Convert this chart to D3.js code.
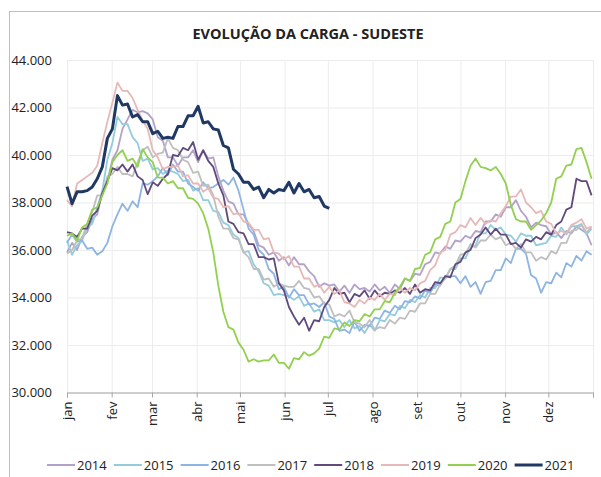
<!DOCTYPE html>
<html>
<head>
<meta charset="utf-8">
<script src="https://cdn.jsdelivr.net/npm/d3@7"></script>
<style>
  body { margin: 0; background: #fff; }
  text { font-family: "Open Sans", "Noto Sans", sans-serif; fill: #222; }
  .grid line { stroke: #ececec; stroke-width: 1; }
  .grid path { display: none; }
  .x-axis path, .x-axis line { stroke: #a6a6a6; }
</style>
</head>
<body>
<div id="chart"></div>
<script>
// series names and colours
var years = ["2014", "2015", "2016", "2017", "2018", "2019", "2020", "2021"];
var colors = ["#b3a2c7", "#93cddd", "#8eb4e3", "#bfbfbf", "#604a7b", "#e6b9b8", "#92d050", "#1f3864"];

// month axis
var monthLabels = ["jan", "fev", "mar", "abr", "mai", "jun", "jul", "ago", "set", "out", "nov", "dez"];
var monthStart = [0, 31, 59, 90, 120, 151, 181, 212, 243, 273, 304, 334];
var yTicks = [30000, 32000, 34000, 36000, 38000, 40000, 42000, 44000];

// load (thousand MWmed), one value every 3.5 days from jan 1
var step = 3.5;
var load2014 = [35.9,36.3,36.0,36.55,36.75,37.3,37.5,38.4,38.9,39.8,40.2,41.1,41.5,41.9,41.8,41.85,41.75,41.5,40.75,40.6,39.9,39.9,39.55,39.9,39.9,40.2,39.7,40.2,39.85,39.9,39.1,38.5,38.05,37.95,37.5,37.5,37.1,36.8,36.2,36.1,35.8,35.9,35.55,35.7,35.35,35.7,35.4,35.4,35.1,34.9,34.45,34.6,34.5,34.55,34.25,34.5,34.2,34.55,34.35,34.4,34.25,34.55,34.3,34.45,34.2,34.55,34.35,34.8,34.7,35.0,34.95,35.4,35.5,35.9,35.85,36.15,36.05,36.4,36.35,36.6,36.5,36.8,36.75,37.2,37.2,37.5,37.4,37.8,37.8,38.1,37.65,37.4,36.95,37.15,37.05,37.0,36.65,36.75,36.5,36.8,36.7,37.0,36.85,36.7,36.2];
var load2015 = [36.4,35.8,36.2,36.4,36.95,37.1,37.8,38.5,39.8,40.5,41.6,41.3,41.3,40.75,40.5,39.75,39.85,39.4,39.45,39.2,39.35,39.3,39.2,38.9,38.95,38.5,38.6,38.1,38.1,37.65,37.6,37.15,37.05,36.65,36.5,35.9,35.95,35.4,35.1,34.6,34.5,34.1,34.15,34.1,34.05,33.9,34.05,33.65,33.75,33.4,33.5,33.05,33.05,32.95,33.05,32.75,33.05,32.7,32.8,32.5,32.85,32.6,33.05,33.0,33.3,33.25,33.65,33.55,33.9,33.8,34.1,34.0,34.4,34.4,34.85,34.8,35.2,35.2,35.65,35.65,36.1,36.2,36.7,36.7,37.05,36.85,36.95,36.65,36.6,36.35,36.7,36.6,36.6,36.2,36.25,36.3,36.6,36.55,36.95,36.65,37.0,37.0,37.1,36.65,36.9];
var load2016 = [36.3,36.65,36.35,36.4,36.05,36.1,35.8,35.95,36.3,37.0,37.5,37.95,37.65,38.05,37.8,38.8,38.75,38.9,39.1,39.45,39.15,39.6,39.3,39.3,38.8,38.65,38.5,38.85,38.6,38.65,38.8,38.95,38.75,39.05,38.5,37.7,36.9,36.65,36.0,35.8,35.2,35.0,34.35,34.45,34.0,34.35,34.1,34.1,33.7,33.75,33.6,33.8,33.2,33.1,32.6,32.65,32.5,33.0,32.6,32.85,32.8,33.15,33.1,33.45,33.35,33.65,33.5,33.85,33.8,34.05,33.95,34.3,34.2,34.55,34.5,34.9,34.9,34.9,34.6,34.9,34.45,34.65,34.15,34.65,34.7,35.15,35.15,35.65,35.45,36.05,36.05,35.85,34.95,34.8,34.2,34.65,34.6,35.05,34.85,35.45,35.3,35.75,35.55,35.95,35.8];
var load2017 = [35.85,36.0,36.4,36.5,37.1,37.6,38.3,38.3,39.1,39.2,39.5,39.2,39.2,39.1,39.7,40.2,40.35,39.9,40.05,40.1,40.7,40.3,40.2,39.8,39.7,39.25,39.3,38.7,38.75,38.3,37.4,36.9,36.9,36.5,36.45,35.9,35.7,35.2,35.2,34.75,34.8,34.45,34.6,34.5,34.45,34.45,34.7,34.4,34.35,34.0,34.05,33.75,33.7,33.2,33.3,33.2,33.45,32.95,32.9,32.75,33.05,32.65,32.75,32.7,33.05,32.9,33.15,33.1,33.45,33.4,33.75,33.75,34.15,34.15,34.55,34.8,35.2,35.35,35.8,35.85,36.25,36.1,36.4,36.4,36.65,36.45,36.55,36.2,36.3,36.05,36.25,35.9,35.9,35.55,35.7,35.6,35.95,35.85,36.3,36.3,36.8,36.85,37.05,36.75,36.95];
var load2018 = [36.75,36.7,36.55,36.9,36.9,37.45,37.65,38.4,38.9,39.45,39.35,39.6,39.3,39.6,39.1,38.95,38.35,38.85,38.7,39.0,39.2,40.0,39.95,40.3,40.2,40.55,39.8,40.2,39.75,39.5,38.8,38.3,37.2,37.1,36.75,36.7,36.25,36.25,35.7,35.7,35.6,35.65,34.6,34.3,33.6,33.2,32.85,33.15,32.6,33.05,33.0,33.6,33.9,34.4,34.15,34.2,33.8,34.15,34.05,34.3,33.95,34.3,34.05,34.2,34.15,34.3,34.2,34.4,34.15,34.55,34.2,34.35,34.3,34.65,34.6,34.9,34.85,35.4,35.5,35.9,36.0,36.5,36.65,36.95,36.65,36.9,36.65,36.65,36.25,36.3,36.1,36.45,36.35,36.55,36.45,36.75,36.65,37.05,37.2,37.7,37.8,39.0,38.9,38.9,38.3];
var load2019 = [38.1,37.85,38.8,38.95,39.1,39.25,39.55,40.5,41.4,42.2,43.05,42.7,42.7,42.4,41.9,41.45,41.1,40.2,39.9,39.4,39.5,39.5,39.55,39.1,39.15,38.8,38.8,38.45,38.6,38.2,38.15,37.8,37.85,37.5,37.55,37.2,37.15,36.85,36.85,36.45,36.5,35.9,35.85,35.6,35.75,35.3,35.3,34.8,34.8,34.45,34.55,34.2,34.45,34.15,34.3,33.8,33.75,33.6,33.9,33.75,34.0,33.9,34.15,33.9,34.15,34.1,34.4,34.2,34.4,34.3,34.6,34.7,35.15,35.35,35.9,36.0,36.65,36.75,37.05,36.95,37.35,37.05,37.35,37.1,37.25,37.2,37.55,37.85,38.25,38.25,38.55,38.0,37.8,37.55,37.65,37.2,37.1,36.7,36.8,36.7,37.05,37.15,37.3,36.9,37.0];
var load2020 = [36.6,36.7,36.4,36.95,37.1,37.7,37.8,38.3,38.8,39.7,40.0,40.2,39.75,39.85,39.5,40.25,39.9,39.7,39.05,39.05,38.8,38.9,38.6,38.6,38.2,38.15,37.95,37.55,36.9,35.9,34.5,33.4,32.75,32.65,32.1,31.8,31.3,31.4,31.3,31.35,31.35,31.6,31.25,31.25,31.0,31.45,31.4,31.7,31.55,31.65,31.85,32.35,32.3,32.7,32.65,32.95,32.8,33.05,33.0,33.3,33.2,33.5,33.5,33.85,33.8,34.2,34.45,34.8,34.7,35.2,35.25,35.8,35.9,36.45,36.55,37.1,37.2,38.0,38.15,38.9,39.55,39.85,39.5,39.45,39.35,39.5,39.2,38.8,37.9,37.3,37.2,37.2,36.85,37.05,37.25,37.55,38.0,39.0,39.1,39.55,39.6,40.25,40.3,39.7,39.0];
var load2021 = [38.67,37.95,38.45,38.45,38.5,38.65,39.0,39.5,40.7,41.1,42.5,42.1,42.15,41.6,41.7,41.4,41.4,40.9,41.0,40.7,40.75,40.7,41.2,41.2,41.65,41.65,42.05,41.35,41.4,41.1,41.05,40.4,40.3,39.4,39.2,38.85,38.85,38.55,38.65,38.2,38.55,38.4,38.55,38.5,38.85,38.4,38.8,38.45,38.55,38.2,38.25,37.85,37.75];

var seriesValues = [load2014, load2015, load2016, load2017, load2018, load2019, load2020, load2021];

var svgWidth = 601;
var svgHeight = 477;

var svg = d3.select("#chart")
    .append("svg")
    .attr("width", svgWidth)
    .attr("height", svgHeight);

// outer frame
svg.append("rect")
    .attr("x", 9.5)
    .attr("y", 11.5)
    .attr("width", 600)
    .attr("height", 480)
    .attr("fill", "none")
    .attr("stroke", "#bfbfbf");

var xScale = d3.scaleLinear().domain([0, 365]).range([67, 593]);
var yScale = d3.scaleLinear().domain([30000, 44000]).range([392.5, 60]);

var ptBR = d3.formatLocale({ decimal: ",", thousands: ".", grouping: [3], currency: ["R$", ""] });
var fmt = ptBR.format(",d");

// horizontal grid
svg.append("g")
    .classed("grid", true)
    .attr("transform", "translate(67,0)")
    .call(d3.axisLeft(yScale).tickValues(yTicks).tickSize(-526).tickFormat(""));

// vertical grid
svg.append("g")
    .classed("grid", true)
    .attr("transform", "translate(0,60)")
    .call(d3.axisBottom(xScale).tickValues(monthStart.concat([365])).tickSize(332.5).tickFormat(""));

// y labels
svg.append("g")
    .attr("transform", "translate(67,0)")
    .call(d3.axisLeft(yScale).tickValues(yTicks).tickSize(0).tickPadding(15).tickFormat(fmt))
    .call(g => g.select(".domain").remove())
    .selectAll("text")
    .style("font-size", "13px")
    .style("font-family", "Open Sans, sans-serif")
    .attr("fill", "#222");

// x axis with month ticks
var xAxis = svg.append("g")
    .classed("x-axis", true)
    .attr("transform", "translate(0,392.5)")
    .call(d3.axisBottom(xScale)
        .tickValues(monthStart.concat([365]))
        .tickSizeOuter(0)
        .tickSize(5)
        .tickFormat((d, i) => monthLabels[i] || ""));

xAxis.selectAll("text")
    .attr("transform", "rotate(-90)")
    .attr("text-anchor", "end")
    .attr("x", -9)
    .attr("y", 0)
    .attr("dy", "0.35em")
    .style("font-size", "13px")
    .style("font-family", "Open Sans, sans-serif")
    .attr("fill", "#222");

var line = d3.line()
    .x((d, i) => xScale(i * step))
    .y(d => yScale(d * 1000));

// draw years, 2021 last and thicker
seriesValues.forEach(function(vals, k) {
    svg.append("path")
        .datum(vals)
        .attr("d", line)
        .attr("fill", "none")
        .attr("stroke", colors[k])
        .attr("stroke-width", k === 7 ? 3 : 1.8)
        .attr("stroke-linejoin", "round");
});

// title
svg.append("text")
    .attr("x", 308)
    .attr("y", 39)
    .attr("text-anchor", "middle")
    .style("font-size", "14.5px")
    .style("font-weight", "bold")
    .text("EVOLUÇÃO DA CARGA - SUDESTE");

// legend
var legend = svg.append("g")
    .attr("transform", "translate(47,465)");

years.forEach(function(yr, k) {
    var item = legend.append("g")
        .attr("transform", `translate(${k * 66.8},0)`);
    item.append("line")
        .attr("x1", 0)
        .attr("x2", 28)
        .attr("stroke", colors[k])
        .attr("stroke-width", k === 7 ? 3 : 2);
    item.append("text")
        .attr("x", 30)
        .attr("dy", "0.35em")
        .style("font-size", "13px")
        .text(yr);
});
</script>
</body>
</html>
